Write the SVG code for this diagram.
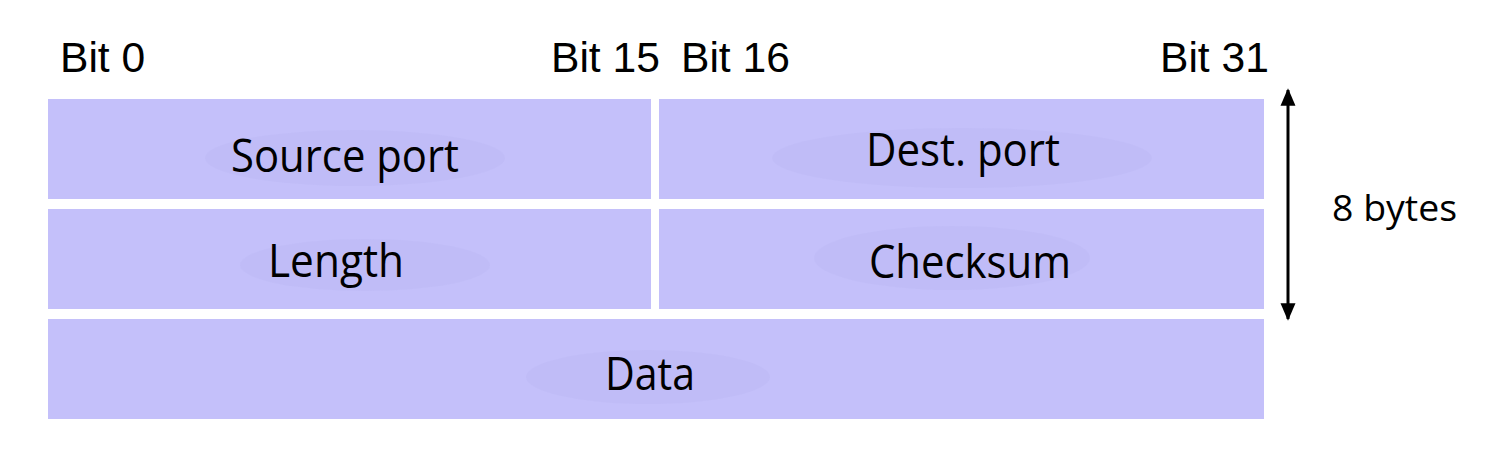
<svg xmlns="http://www.w3.org/2000/svg" width="1511" height="460" viewBox="0 0 1511 460">
<style>
.box{fill:#c4c0fa}
.blob{fill:#b8b3f0;opacity:0.28}
.lbl{font-family:"Open Sans","Noto Sans",sans-serif;font-size:46px;fill:#000}
.bit{font-family:"Liberation Sans",Arial,sans-serif;font-size:42.6px;fill:#000}
</style>
<defs>
<marker id="ah" viewBox="0 0 10 10" refX="9" refY="5" markerWidth="5.8" markerHeight="5.8" orient="auto-start-reverse" markerUnits="strokeWidth"><path d="M0,0.7 L10,5 L0,9.3 z" fill="#000"/></marker>
</defs>
<rect width="1511" height="460" fill="#fff"/>
<g id="bits">
<text class="bit" x="60" y="72">Bit 0</text>
<text class="bit" x="551" y="72">Bit 15</text>
<text class="bit" x="681" y="72">Bit 16</text>
<text class="bit" x="1160" y="72">Bit 31</text>
</g>
<g id="source-port">
<rect class="box" x="48" y="99" width="603" height="100"/>
<ellipse class="blob" cx="355" cy="158" rx="150" ry="28"/>
<text class="lbl" x="231" y="172" textLength="228" lengthAdjust="spacingAndGlyphs">Source port</text>
</g>
<g id="dest-port">
<rect class="box" x="659" y="99" width="605" height="100"/>
<ellipse class="blob" cx="962" cy="158" rx="190" ry="30"/>
<text class="lbl" x="866" y="166" textLength="194" lengthAdjust="spacingAndGlyphs">Dest. port</text>
</g>
<g id="length">
<rect class="box" x="48" y="209" width="603" height="100"/>
<ellipse class="blob" cx="365" cy="265" rx="125" ry="26"/>
<text class="lbl" x="268" y="277" textLength="136" lengthAdjust="spacingAndGlyphs">Length</text>
</g>
<g id="checksum">
<rect class="box" x="659" y="209" width="605" height="100"/>
<ellipse class="blob" cx="952" cy="258" rx="138" ry="32"/>
<text class="lbl" x="869" y="278" textLength="202" lengthAdjust="spacingAndGlyphs">Checksum</text>
</g>
<g id="data">
<rect class="box" x="48" y="319" width="1216" height="100"/>
<ellipse class="blob" cx="648" cy="377" rx="122" ry="27"/>
<text class="lbl" x="605" y="390" textLength="90" lengthAdjust="spacingAndGlyphs">Data</text>
</g>
<g id="connectors">
<line x1="1288" y1="90" x2="1288" y2="319" stroke="#000" stroke-width="3" marker-start="url(#ah)" marker-end="url(#ah)"/>
</g>
<g id="size-label">
<text class="lbl" x="1332" y="221" style="font-size:36px" textLength="125" lengthAdjust="spacingAndGlyphs">8 bytes</text>
</g>
</svg>
